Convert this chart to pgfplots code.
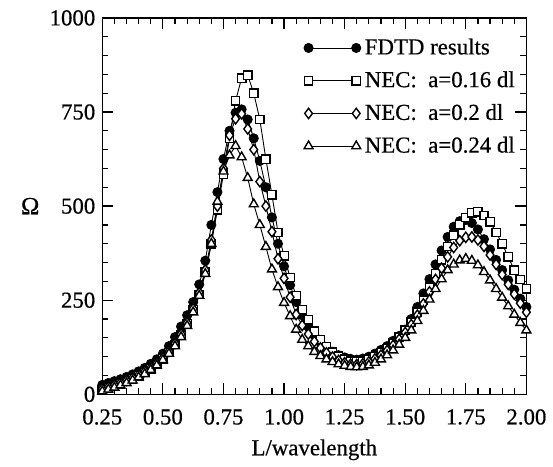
\documentclass[border=0pt]{standalone}
\usepackage{fontspec}
\setmainfont{Liberation Serif}[FakeBold=0.5]
\usepackage{pgfplots}
\pgfplotsset{compat=1.18}
\usepackage{pgfplotstable}

\pgfplotstableread{
x f s d t
0.250 25 12 15 8
0.275 30 17 20 13
0.300 35 22 25 18
0.325 40 28 31 24
0.350 46 34 37 30
0.375 53 41 44 37
0.400 61 49 52 45
0.425 70 58 61 54
0.450 81 68 71 65
0.475 93 80 83 77
0.500 108 94 97 91
0.525 128 111 114 108
0.550 152 132 135 128
0.575 180 157 160 152
0.600 210 188 190 182
0.625 245 225 227 218
0.650 292 265 270 262
0.675 355 325 330 320
0.700 450 400 410 400
0.725 537 490 500 512
0.750 625 585 600 592
0.775 700 680 688 635
0.800 748 780 732 660
0.825 757 840 745 630
0.850 730 848 705 575
0.875 680 800 650 505
0.900 620 730 565 450
0.925 550 625 500 392
0.950 470 530 432 332
0.975 400 430 360 285
1.000 340 368 308 243
1.025 290 310 258 208
1.050 245 262 212 172
1.075 210 225 183 145
1.100 180 198 160 128
1.125 157 168 140 113
1.150 138 145 123 102
1.175 124 126 110 93
1.200 113 112 99 86
1.225 104 101 90 80
1.250 98 93 84 76
1.275 94 88 80 73
1.300 92 86 79 72
1.325 95 88 81 73
1.350 100 92 86 77
1.375 108 100 94 84
1.400 118 110 104 93
1.425 128 122 116 104
1.450 142 136 130 117
1.475 155 152 146 132
1.500 172 170 164 150
1.525 200 192 185 170
1.550 232 218 210 195
1.575 268 250 240 222
1.600 306 285 272 252
1.625 345 320 305 280
1.650 382 357 335 306
1.675 418 393 365 330
1.700 445 423 390 345
1.725 460 450 408 356
1.750 463 470 417 360
1.775 455 482 418 355
1.800 438 485 410 343
1.825 412 475 393 325
1.850 385 458 370 303
1.875 357 430 345 280
1.900 330 400 318 257
1.925 303 365 292 234
1.950 278 330 266 212
1.975 254 305 242 190
2.000 232 280 218 170
}\data

\begin{document}
\begin{tikzpicture}
\begin{axis}[name=ax, scale only axis, width=213.5pt, height=189.5pt,
  xmin=0.25, xmax=2, ymin=0, ymax=1000,
  xtick={0.25,0.5,0.75,1,1.25,1.5,1.75,2}, minor x tick num=4,
  ytick={0,250,500,750,1000}, minor y tick num=4,
  tick align=inside, major tick length=5.5pt, minor tick length=3pt,
  every tick/.style={black, line width=0.6pt},
  axis line style={line width=0.8pt},
  xticklabel style={yshift=-4pt, /pgf/number format/.cd, fixed, fixed zerofill, precision=2},
  /pgf/number format/assume math mode=true,
  /pgf/number format/1000 sep={},
  tick label style={font=\fontsize{11.5}{13}\selectfont},
  label style={font=\fontsize{11.5}{13}\selectfont},
  xlabel={L/wavelength},
  xlabel style={yshift=-0.5pt},
  ylabel={\fontsize{12.5}{14}\selectfont Ω},
  ylabel style={rotate=-90, at={(axis description cs:-0.17,0.5)}, anchor=center},
  legend image code/.code={\draw[mark repeat=2, mark phase=1] plot coordinates {(-2pt,0pt) (10pt,0pt) (22pt,0pt)};},
  legend style={draw=none, fill=none, at={(0.47,0.962)}, anchor=north west,
    font=\fontsize{11.5}{13}\selectfont, row sep=3pt, inner sep=1pt},
  legend cell align=left,
]
\addplot[black, line width=0.45pt, mark=*, mark size=2.3pt, mark options={solid, fill=black}] table[x=x, y=f] {\data};
\addlegendentry{FDTD results}
\addplot[black, line width=0.45pt, mark=square*, mark size=2.1pt, mark options={solid, fill=white, line width=0.7pt}] table[x=x, y=s] {\data};
\addlegendentry{NEC:\ \ a=0.16 dl}
\addplot[black, line width=0.45pt, mark=diamond*, mark size=2.6pt, mark options={solid, fill=white, line width=0.7pt}] table[x=x, y=d] {\data};
\addlegendentry{NEC:\ \ a=0.2 dl}
\addplot[black, line width=0.45pt, mark=triangle*, mark size=2.6pt, mark options={solid, fill=white, line width=0.7pt}] table[x=x, y=t] {\data};
\addlegendentry{NEC:\ \ a=0.24 dl}
\end{axis}
\path (ax.south west) ++(-51.5pt,-30pt) rectangle ++(276.5pt,228.5pt);
\end{tikzpicture}
\end{document}
